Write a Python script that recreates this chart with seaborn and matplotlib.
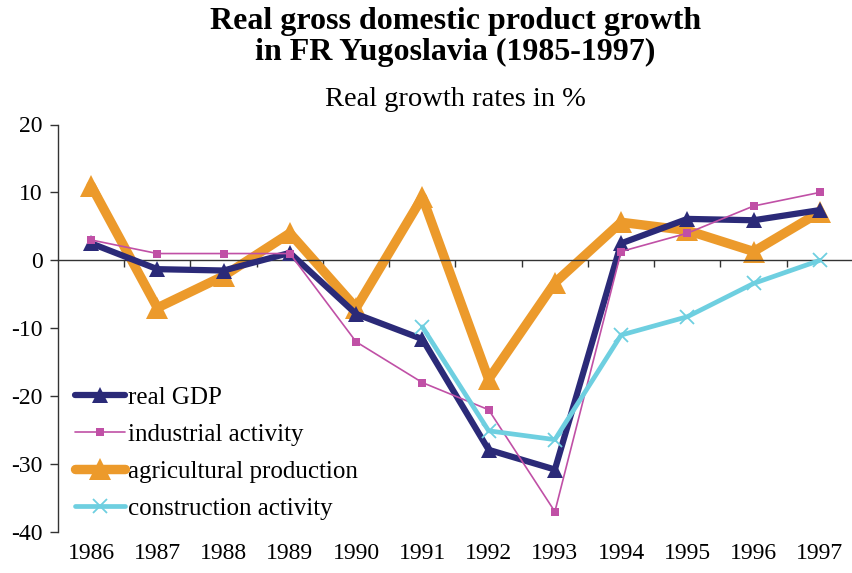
import matplotlib
matplotlib.use("Agg")
import matplotlib.pyplot as plt
import seaborn as sns
import pandas as pd

years = ["1986", "1987", "1988", "1989", "1990", "1991",
         "1992", "1993", "1994", "1995", "1996", "1997"]

real_gdp = [2.5, -1.3, -1.5, 1.1, -7.9, -11.6, -27.9, -30.8, 2.5, 6.1, 5.9, 7.4]
industrial = [3.0, 1.0, 1.0, 1.0, -12.0, -18.0, -22.0, -37.0, 1.3, 4.0, 8.0, 10.0]
agricultural = [11.0, -7.0, -2.3, 4.0, -7.0, 9.3, -17.5, -3.3, 5.6, 4.4, 1.3, 7.1]
construction = [None, None, None, None, None, -9.8, -25.1, -26.4, -11.0, -8.3, -3.4, 0.0]

series_names = ["real GDP", "industrial activity",
                "agricultural production", "construction activity"]

df = pd.DataFrame({
    "pos": list(range(len(years))),
    "real GDP": real_gdp,
    "industrial activity": industrial,
    "agricultural production": agricultural,
    "construction activity": construction,
})

styles = {
    "real GDP": dict(color="#2B2A78", lw=4.5, marker="^", ms=12, mew=0, zorder=3),
    "industrial activity": dict(color="#C050A6", lw=1.2, marker="s", ms=5.5, mew=0, zorder=4),
    "agricultural production": dict(color="#EC9A2B", lw=6.8, marker="^", ms=16, mew=0, zorder=2),
    "construction activity": dict(color="#6ECFE0", lw=3.4, marker="x", ms=10, mew=1.3, zorder=5),
}

sns.set_style("white")
plt.rcParams["font.family"] = ["Liberation Serif", "DejaVu Serif"]
plt.rcParams["axes.unicode_minus"] = False
plt.rcParams["text.color"] = "black"
plt.rcParams["xtick.color"] = "black"
plt.rcParams["ytick.color"] = "black"

fig = plt.figure(figsize=(8.53, 5.73), dpi=100)
ax = fig.add_axes([58 / 853, 1 - 532 / 573, 795 / 853, 407.5 / 573])

for name in series_names:
    st = styles[name]
    sub = df[["pos", name]].dropna()
    sns.lineplot(data=sub, x="pos", y=name, ax=ax, label=name,
                 color=st["color"], linewidth=st["lw"], marker=st["marker"],
                 markersize=st["ms"], markeredgewidth=st["mew"],
                 markeredgecolor=st["color"], zorder=st["zorder"])

ax.set_xlim(-0.5, len(years) - 0.5)
ax.set_ylim(-40, 20)
ax.set_yticks(range(-40, 21, 10))
ax.set_xlabel("")
ax.set_ylabel("")

# x axis drawn through zero, with ticks between categories
for s in ["top", "right"]:
    ax.spines[s].set_visible(False)
ax.spines["bottom"].set_position(("data", 0))
ax.spines["bottom"].set_color("#333333")
ax.spines["bottom"].set_linewidth(1.0)
ax.spines["left"].set_color("#333333")
ax.spines["left"].set_linewidth(1.0)
ax.set_xticks([i + 0.5 for i in range(len(years))])
ax.set_xticklabels([])
ax.tick_params(axis="x", direction="out", length=5, width=1, color="#333333", bottom=True)
ax.tick_params(axis="y", direction="out", length=6, width=1, color="#333333", left=True,
               labelsize=17, pad=5, labelcolor="black")

# category labels along the bottom
sec = ax.secondary_xaxis("bottom")
sec.set_xticks(range(len(years)))
sec.set_xticklabels(years)
sec.spines["bottom"].set_visible(False)
sec.tick_params(axis="x", length=0, labelsize=17, pad=8, labelcolor="black")

leg = ax.legend(loc="upper left", bbox_to_anchor=(0.021, 0.357), frameon=False,
                fontsize=18, handlelength=2.0, handletextpad=0.12,
                labelspacing=0.58, borderaxespad=0, borderpad=0)

fig.text(0.534, 0.988, "Real gross domestic product growth\nin FR Yugoslavia (1985-1997)",
         ha="center", va="top", fontsize=23, fontweight="bold", linespacing=1.08,
         color="black")
fig.text(0.534, 0.826, "Real growth rates in %", ha="center", va="center", fontsize=20.5,
         color="black")

fig.savefig("out.png", dpi=100)
